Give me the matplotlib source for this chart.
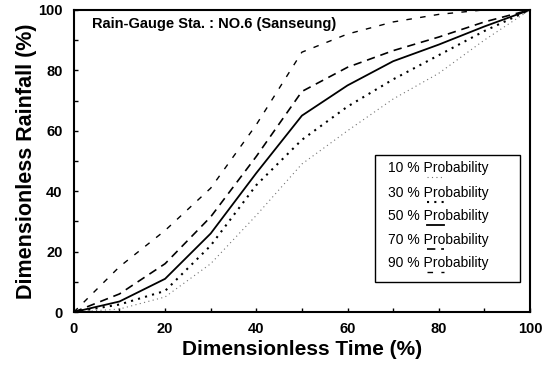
import matplotlib
matplotlib.use("Agg")
import matplotlib.pyplot as plt
from matplotlib.lines import Line2D
from matplotlib.patches import Rectangle

plt.rcParams['font.family'] = ['Liberation Sans', 'DejaVu Sans']

# dimensionless time (%)
time_pct = [0, 10, 20, 30, 40, 50, 60, 70, 80, 90, 100]

# dimensionless cumulative rainfall (%) per probability
p10 = [0, 1, 5, 16, 32, 49, 60, 70.5, 79, 90, 100]
p30 = [0, 2.5, 7, 22, 42, 57, 68, 77, 85, 93, 100]
p50 = [0, 3.5, 11, 26, 46, 65, 75, 83, 88.5, 94.5, 100]
p70 = [0, 6, 16, 31.5, 51.5, 73, 81, 86.5, 91, 96, 100]
p90 = [0, 15, 27, 41, 62, 86, 92, 96, 98.5, 100, 100]

labels = ['10 % Probability', '30 % Probability', '50 % Probability',
          '70 % Probability', '90 % Probability']
series = [p10, p30, p50, p70, p90]
styles = [
    dict(color='0.45', lw=0.8, ls=(0, (1, 3))),
    dict(color='black', lw=1.5, ls=(0, (1, 2.5))),
    dict(color='black', lw=1.3, ls='-'),
    dict(color='black', lw=1.2, ls=(0, (5, 3.5))),
    dict(color='black', lw=1.0, ls=(0, (4, 6))),
]

fig = plt.figure(figsize=(5.43, 3.65), dpi=100)
ax = fig.add_axes([0.136, 0.145, 0.840, 0.828])

for vals, st in zip(series, styles):
    ax.plot(time_pct, vals, **st)

ax.set_xlim(0, 100)
ax.set_ylim(0, 100)
ax.set_xticks(range(0, 101, 20))
ax.set_yticks(range(0, 101, 20))
ax.set_xticks(range(0, 101, 10), minor=True)
ax.set_yticks(range(0, 101, 10), minor=True)
ax.tick_params(which='both', direction='in', length=3, width=1)
ax.tick_params(axis='x', labelsize=10.5, pad=7)
ax.tick_params(axis='y', labelsize=10.5, pad=8)
for lab in ax.get_xticklabels() + ax.get_yticklabels():
    lab.set_fontweight('bold')
for sp in ax.spines.values():
    sp.set_linewidth(1.5)

ax.set_xlabel('Dimensionless Time (%)', fontsize=15, fontweight='bold', labelpad=3)
ax.set_ylabel('Dimensionless Rainfall (%)', fontsize=15.5, fontweight='bold', labelpad=1)

ax.text(0.04, 0.975, 'Rain-Gauge Sta. : NO.6 (Sanseung)', transform=ax.transAxes,
        fontsize=10.5, fontweight='bold', va='top', ha='left')

# legend box with line samples under the word "Probability"
box = Rectangle((0.66, 0.10), 0.318, 0.42, transform=ax.transAxes,
                facecolor='white', edgecolor='black', lw=1.0, zorder=5)
ax.add_patch(box)
ys = [0.478, 0.395, 0.318, 0.238, 0.162]
for lab, st, y in zip(labels, styles, ys):
    ax.text(0.8, y, lab, transform=ax.transAxes, fontsize=10,
            ha='center', va='center', zorder=6)
    ax.add_line(Line2D([0.775, 0.812], [y - 0.03, y - 0.03],
                       transform=ax.transAxes, zorder=6, **st))

fig.savefig('out.png', dpi=100)
